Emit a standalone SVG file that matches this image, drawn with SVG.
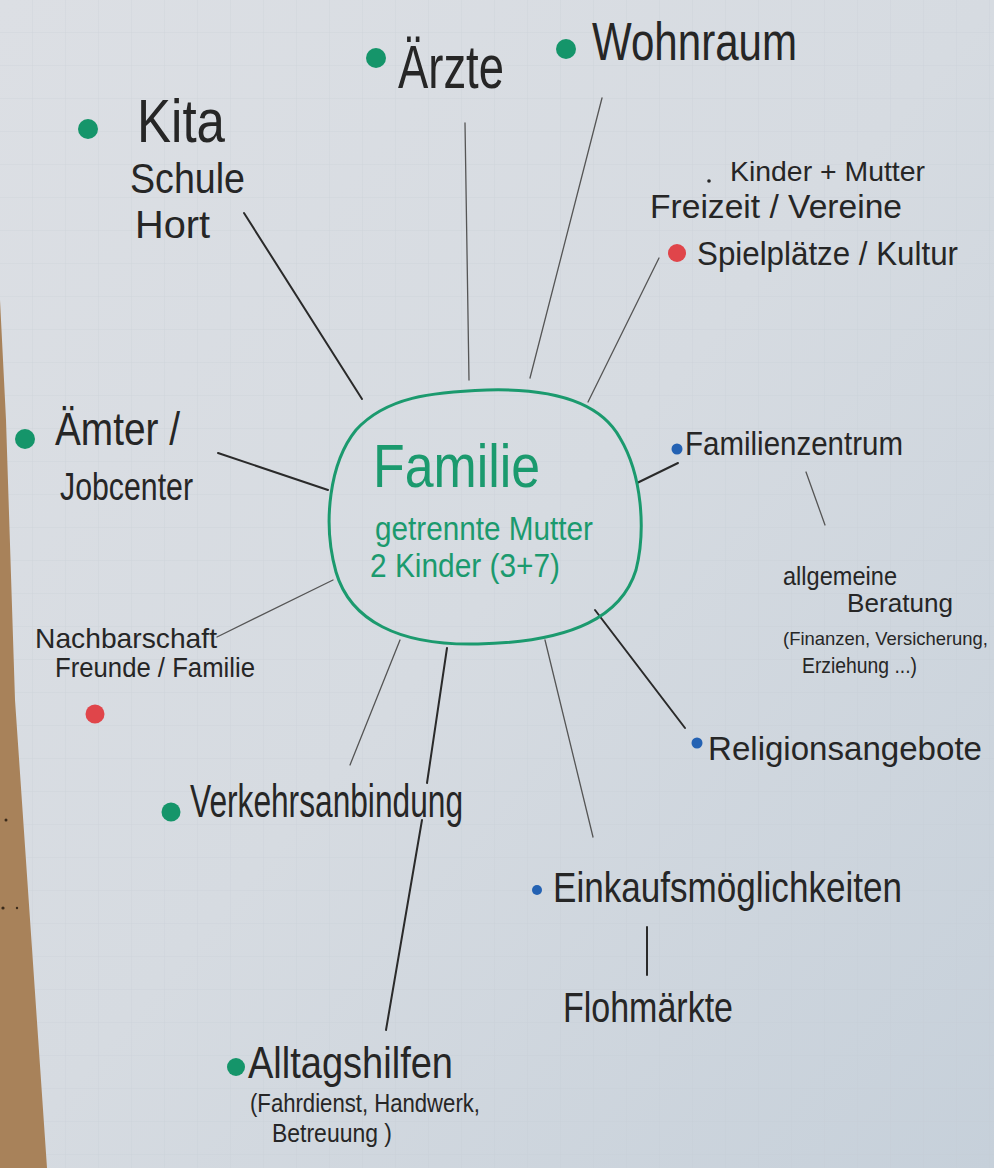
<svg xmlns="http://www.w3.org/2000/svg" width="994" height="1168" viewBox="0 0 994 1168">
<defs>
<linearGradient id="paper" x1="0" y1="0" x2="1" y2="1">
<stop offset="0" stop-color="#dcdfe4"/>
<stop offset="0.5" stop-color="#d6dbe1"/>
<stop offset="1" stop-color="#c6d0da"/>
</linearGradient>
<pattern id="grid" width="33" height="33" patternUnits="userSpaceOnUse">
<path d="M33 0V33M0 33H33" fill="none" stroke="#c3c9d1" stroke-width="0.8"/>
</pattern>
<style>
text{font-family:"Liberation Sans","DejaVu Sans",sans-serif;fill:#262626;}
.g{fill:#1b9a6e;}
.dg{fill:#15956a;}
.dr{fill:#e0454a;}
.db{fill:#2462b3;}
.c{stroke:#2a2a2a;stroke-width:2;fill:none;stroke-linecap:round;}
.ct{stroke:#555;stroke-width:1.3;fill:none;stroke-linecap:round;}
</style>
</defs>
<rect width="994" height="1168" fill="url(#paper)"/>
<rect width="994" height="1168" fill="url(#grid)" opacity="0.55"/>
<polygon points="0,300 6,420 15,700 47,1168 0,1168" fill="#a8825a"/>
<g fill="#3a2a1a"><circle cx="6" cy="820" r="1.5"/><circle cx="3" cy="908" r="1.6"/><circle cx="17" cy="908" r="1.2"/></g>

<g id="connectors">
<line class="c" x1="244" y1="213" x2="362" y2="399"/>
<line class="ct" x1="465" y1="123" x2="469" y2="380"/>
<line class="ct" x1="602" y1="98" x2="530" y2="378"/>
<line class="ct" x1="659" y1="258" x2="588" y2="402"/>
<line class="c" x1="637" y1="483" x2="678" y2="463"/>
<line class="ct" x1="806" y1="472" x2="825" y2="525"/>
<line class="c" x1="595" y1="610" x2="685" y2="728"/>
<line class="ct" x1="545" y1="640" x2="593" y2="837"/>
<line class="c" x1="647" y1="927" x2="647" y2="975"/>
<path class="c" d="M447 648 L427 783 M422 820 L386 1030"/>
<line class="ct" x1="400" y1="640" x2="350" y2="765"/>
<line class="c" x1="218" y1="453" x2="328" y2="490"/>
<line class="ct" x1="217" y1="637" x2="333" y2="580"/>
</g>

<g id="familie">
<path d="M487 390 C560 388 602 405 620 438 C642 475 646 530 636 570 C622 615 575 642 478 644 C398 646 350 620 336 572 C322 522 330 462 356 430 C386 397 432 392 487 390 Z" fill="none" stroke="#1b9a6e" stroke-width="3"/>
<text class="g" x="373" y="487" font-size="62" textLength="167" lengthAdjust="spacingAndGlyphs">Familie</text>
<text class="g" x="375" y="540" font-size="34" textLength="218" lengthAdjust="spacingAndGlyphs">getrennte Mutter</text>
<text class="g" x="370" y="577" font-size="34" textLength="190" lengthAdjust="spacingAndGlyphs">2 Kinder (3+7)</text>
</g>

<g id="kita">
<circle class="dg" cx="88" cy="129" r="10"/>
<text x="137" y="142" font-size="62" textLength="88" lengthAdjust="spacingAndGlyphs">Kita</text>
<text x="130" y="193" font-size="42" textLength="115" lengthAdjust="spacingAndGlyphs">Schule</text>
<text x="135" y="238" font-size="38" textLength="75" lengthAdjust="spacingAndGlyphs">Hort</text>
</g>

<g id="aerzte">
<circle class="dg" cx="376" cy="58" r="10"/>
<text x="398" y="88" font-size="62" textLength="106" lengthAdjust="spacingAndGlyphs">Ärzte</text>
</g>

<g id="wohnraum">
<circle class="dg" cx="566" cy="49" r="10"/>
<text x="592" y="60" font-size="54" textLength="205" lengthAdjust="spacingAndGlyphs">Wohnraum</text>
</g>

<g id="freizeit">
<circle cx="709" cy="181" r="1.8" fill="#262626"/>
<text x="730" y="181" font-size="28" textLength="195" lengthAdjust="spacingAndGlyphs">Kinder + Mutter</text>
<text x="650" y="218" font-size="34" textLength="252" lengthAdjust="spacingAndGlyphs">Freizeit / Vereine</text>
<circle class="dr" cx="677" cy="253" r="9"/>
<text x="697" y="265" font-size="33" textLength="261" lengthAdjust="spacingAndGlyphs">Spielplätze / Kultur</text>
</g>

<g id="familienzentrum">
<circle class="db" cx="677" cy="449" r="5.5"/>
<text x="685" y="455" font-size="34" textLength="218" lengthAdjust="spacingAndGlyphs">Familienzentrum</text>
</g>

<g id="beratung">
<text x="783" y="585" font-size="26" textLength="114" lengthAdjust="spacingAndGlyphs">allgemeine</text>
<text x="847" y="612" font-size="26" textLength="106" lengthAdjust="spacingAndGlyphs">Beratung</text>
<text x="783" y="645" font-size="18.5" textLength="205" lengthAdjust="spacingAndGlyphs">(Finanzen, Versicherung,</text>
<text x="802" y="673" font-size="22" textLength="115" lengthAdjust="spacingAndGlyphs">Erziehung ...)</text>
</g>

<g id="religion">
<circle class="db" cx="697" cy="743" r="5.5"/>
<text x="708" y="760" font-size="34" textLength="274" lengthAdjust="spacingAndGlyphs">Religionsangebote</text>
</g>

<g id="einkauf">
<circle class="db" cx="537" cy="890" r="5"/>
<text x="553" y="902" font-size="42" textLength="349" lengthAdjust="spacingAndGlyphs">Einkaufsmöglichkeiten</text>
</g>

<g id="flohmaerkte">
<text x="563" y="1022" font-size="42" textLength="170" lengthAdjust="spacingAndGlyphs">Flohmärkte</text>
</g>

<g id="alltagshilfen">
<circle class="dg" cx="236" cy="1067" r="9"/>
<text x="248" y="1078" font-size="44" textLength="205" lengthAdjust="spacingAndGlyphs">Alltagshilfen</text>
<text x="250" y="1112" font-size="26" textLength="230" lengthAdjust="spacingAndGlyphs">(Fahrdienst, Handwerk,</text>
<text x="272" y="1142" font-size="26" textLength="120" lengthAdjust="spacingAndGlyphs">Betreuung )</text>
</g>

<g id="verkehr">
<circle class="dg" cx="171" cy="812" r="9.5"/>
<text x="190" y="817" font-size="46" textLength="273" lengthAdjust="spacingAndGlyphs">Verkehrsanbindung</text>
</g>

<g id="aemter">
<circle class="dg" cx="25" cy="439" r="10"/>
<text x="55" y="445" font-size="46" textLength="125" lengthAdjust="spacingAndGlyphs">Ämter /</text>
<text x="60" y="500" font-size="38" textLength="133" lengthAdjust="spacingAndGlyphs">Jobcenter</text>
</g>

<g id="nachbarschaft">
<text x="35" y="648" font-size="28" textLength="182" lengthAdjust="spacingAndGlyphs">Nachbarschaft</text>
<text x="55" y="677" font-size="28" textLength="200" lengthAdjust="spacingAndGlyphs">Freunde / Familie</text>
<circle class="dr" cx="95" cy="714" r="9.5"/>
</g>
</svg>
